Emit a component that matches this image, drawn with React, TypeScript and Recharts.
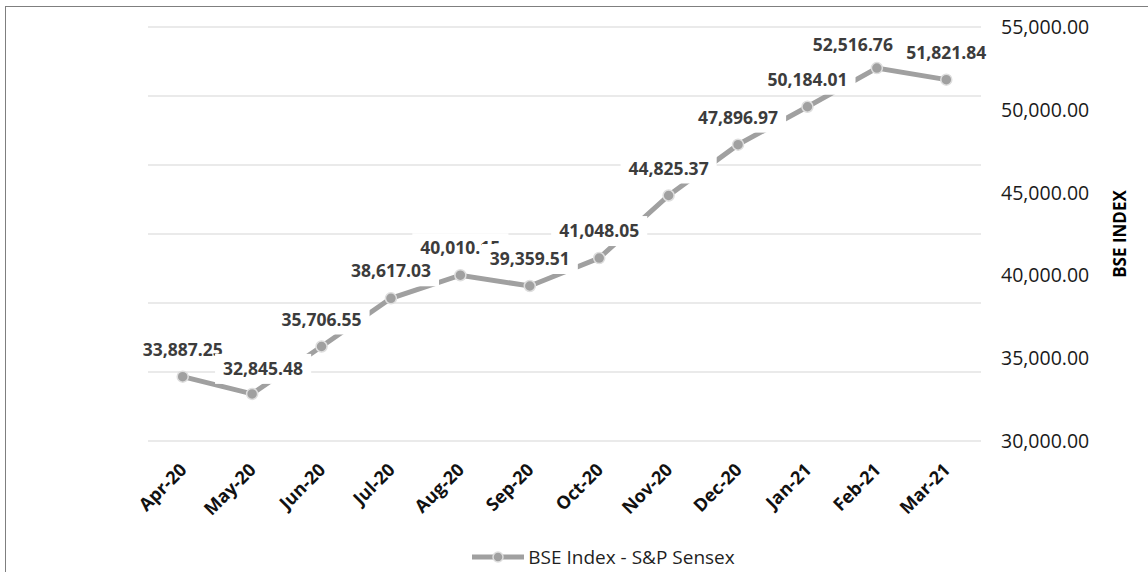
import React from 'react';
import { LineChart, Line, XAxis, YAxis, CartesianGrid, Legend, LabelList } from 'recharts';

const months = ['Apr-20', 'May-20', 'Jun-20', 'Jul-20', 'Aug-20', 'Sep-20', 'Oct-20', 'Nov-20', 'Dec-20', 'Jan-21', 'Feb-21', 'Mar-21'];
const sensex = [33887.25, 32845.48, 35706.55, 38617.03, 40010.15, 39359.51, 41048.05, 44825.37, 47896.97, 50184.01, 52516.76, 51821.84];
const indexTicks = [30000, 35000, 40000, 45000, 50000, 55000];
// the horizontal gridlines split the plot into six bands (primary axis), not five
const gridSteps = [0, 1, 2, 3, 4, 5, 6];

const data = months.map((month, i) => ({ month, value: sensex[i] }));

const FONT = '"Open Sans", "Noto Sans", sans-serif';
const LINE_GRAY = '#a0a0a0';

const fmt = (v: number) =>
  v.toLocaleString('en-US', { minimumFractionDigits: 2, maximumFractionDigits: 2 });

const gridLines = ({ offset }: any) =>
  gridSteps.map((s) => offset.top + (offset.height * s) / (gridSteps.length - 1));

const MonthTick = (props: any) => {
  const { x, y, payload } = props;
  const tx = x + 5;
  const ty = y + 22;
  return (
    <text
      x={tx}
      y={ty}
      textAnchor="end"
      transform={`rotate(-45, ${tx}, ${ty})`}
      fontFamily={FONT}
      fontSize={18}
      fontWeight={700}
      fill="#111"
    >
      {payload.value}
    </text>
  );
};

// a couple of labels were nudged aside so they don't collide with their neighbours
const labelShift: Record<number, [number, number]> = {
  1: [11, 2],
  10: [-24, 4],
};

// value labels sit on a white box, so they cut through the line where they overlap it
const ValueLabel = (props: any) => {
  const { x, y, value, index } = props;
  const [dx, dy] = labelShift[index] ?? [0, 0];
  const cx = x + dx;
  const cy = y - 27 + dy;
  const text = fmt(value);
  const w = text.length * 8.9 + 16;
  return (
    <g>
      <rect x={cx - w / 2} y={cy - 15} width={w} height={30} fill="#fff" />
      <text
        x={cx}
        y={cy}
        dy="0.35em"
        textAnchor="middle"
        fontFamily={FONT}
        fontSize={17.5}
        fontWeight={700}
        fill="#3c3c3c"
      >
        {text}
      </text>
    </g>
  );
};

const AxisTitle = (props: any) => {
  const { x, y, width, height } = props.viewBox;
  const tx = x + width - 5;
  const ty = y + height / 2;
  return (
    <text
      x={tx}
      y={ty}
      textAnchor="middle"
      transform={`rotate(-90, ${tx}, ${ty})`}
      fontFamily={FONT}
      fontSize={17}
      fontWeight={700}
      fill="#000"
    >
      BSE INDEX
    </text>
  );
};

const LegendContent = () => (
  <div
    style={{
      height: 30,
      display: 'flex',
      alignItems: 'center',
      justifyContent: 'center',
      paddingLeft: 58,
      fontFamily: FONT,
      fontSize: 19,
      color: '#1f1f1f',
    }}
  >
    <svg width={54} height={14} style={{ marginRight: 3 }}>
      <line x1={1} y1={7} x2={53} y2={7} stroke={LINE_GRAY} strokeWidth={5} />
      <circle cx={27} cy={7} r={5} fill={LINE_GRAY} stroke="#dedede" strokeWidth={1.5} />
    </svg>
    <span>BSE Index - S&amp;P Sensex</span>
  </div>
);

export default function App() {
  return (
    <div
      style={{
        position: 'absolute',
        left: 0,
        top: 0,
        width: 1148,
        height: 572,
        overflow: 'hidden',
        background: '#fff',
      }}
    >
      <div
        style={{
          position: 'absolute',
          left: 5,
          top: 6,
          width: 1200,
          height: 600,
          border: '1.5px solid #7f7f7f',
        }}
      />
      <div style={{ position: 'absolute', left: 0, top: 0 }}>
        <LineChart width={1148} height={572} data={data} margin={{ top: 27, right: 17, bottom: 0, left: 148 }}>
          <CartesianGrid
            vertical={false}
            stroke="#e3e3e3"
            strokeWidth={1.5}
            horizontalCoordinatesGenerator={gridLines}
          />
          <XAxis
            dataKey="month"
            axisLine={false}
            tickLine={false}
            padding={{ left: 34.7, right: 34.7 }}
            height={101}
            interval={0}
            tick={<MonthTick />}
          />
          <YAxis
            yAxisId="right"
            orientation="right"
            domain={[30000, 55000]}
            ticks={indexTicks}
            tickFormatter={fmt}
            axisLine={false}
            tickLine={false}
            tickSize={6}
            tickMargin={14}
            width={150}
            tick={{ fontFamily: FONT, fontSize: 19.5, fill: '#1a1a1a' }}
            label={<AxisTitle />}
          />
          <Legend
            verticalAlign="bottom"
            wrapperStyle={{ left: 0, width: 1148 }}
            content={<LegendContent />}
          />
          <Line
            yAxisId="right"
            dataKey="value"
            stroke={LINE_GRAY}
            strokeWidth={5}
            dot={{ r: 5.5, fill: LINE_GRAY, stroke: '#dedede', strokeWidth: 1.5 }}
            activeDot={false}
            isAnimationActive={false}
          >
            <LabelList dataKey="value" content={<ValueLabel />} />
          </Line>
        </LineChart>
      </div>
    </div>
  );
}
